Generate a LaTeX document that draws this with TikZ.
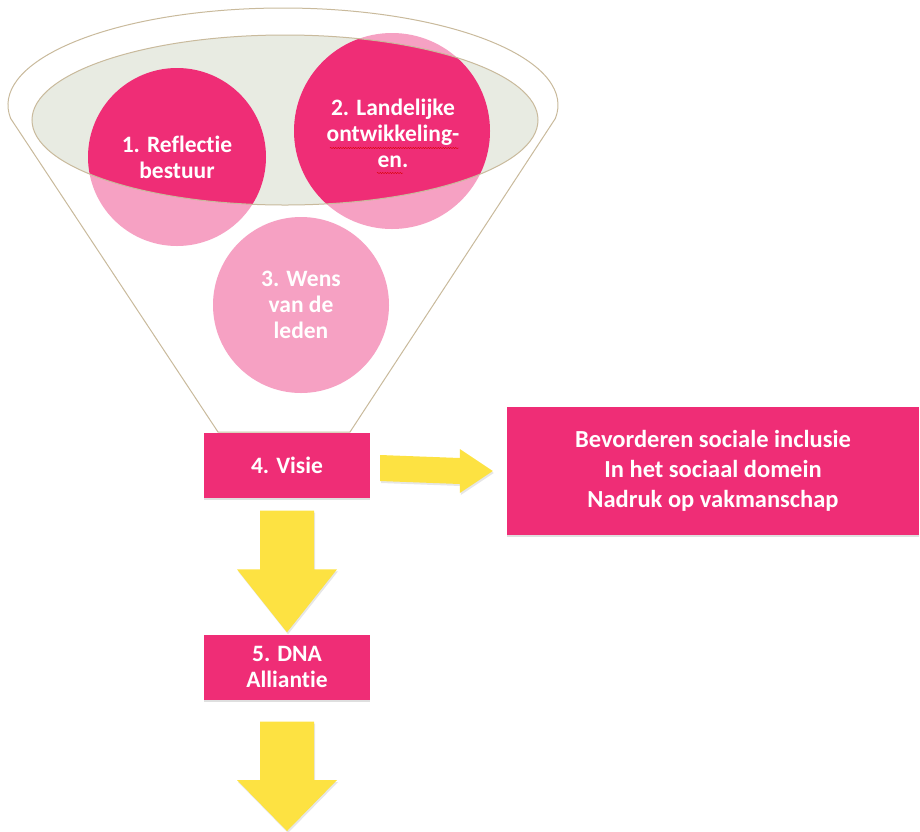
\documentclass[tikz,border=0pt]{standalone}
\usepackage{fontspec}
\setmainfont{Carlito}[Ligatures=NoCommon]
\usetikzlibrary{calc,shadows,decorations.pathmorphing}

\definecolor{rose}{HTML}{EF2D76}
\definecolor{lightrose}{HTML}{F6A1C3}
\definecolor{rimfill}{HTML}{E8EBE2}
\definecolor{rimline}{HTML}{C9BA9C}
\definecolor{arrowfill}{HTML}{FDE242}

\tikzset{
  label/.style={text=white, font=\bfseries\fontsize{23.5}{26}\selectfont, align=center},
  box/.style={label, fill=rose, inner sep=0pt,
    drop shadow={shadow xshift=0pt, shadow yshift=-2pt, opacity=0.25}},
  bigarrow/.style={fill=arrowfill,
    drop shadow={shadow xshift=1pt, shadow yshift=-2pt, opacity=0.2}},
  squiggle/.style={red!85!black, line width=0.45pt, decorate,
    decoration={snake, amplitude=0.6pt, segment length=2.5pt}}
}

\begin{document}
\begin{tikzpicture}[x=1pt,y=-1pt]
    \useasboundingbox (0,0) rectangle (920,831);
    \coordinate (rim) at (283,105);
    \coordinate (mouth) at (285,120);
    % funnel outline
    \draw[rimline, line width=1pt, fill=white] (rim) ++(172:275 and 97) arc[start angle=172, end angle=368, x radius=275, y radius=97]
        -- (350,432) -- (218,432) -- cycle;
    % the three inputs
    \fill[lightrose] (177,157) circle (89);
    \fill[lightrose] (392,131) circle (98);
    \fill[lightrose] (301,305) circle (88);
    \fill[rimfill] (mouth) ellipse (253 and 85);
    \begin{scope}
        \clip (mouth) ellipse (253 and 85);
        \fill[rose] (177,157) circle (89);
        \fill[rose] (392,131) circle (98);
    \end{scope}
    \draw[rimline, line width=1pt] (mouth) ellipse (253 and 85);
    \node[label, circle, minimum size=178] (reflectie) at (177,157) {1. Reflectie\\bestuur};
    \node[label, circle, minimum size=196] (landelijk) at (393,133) {2. Landelijke\\ontwikkeling-\\en.};
    \node[label, circle, minimum size=176] (wens) at (301,305) {3. Wens\\van de\\leden};
    \draw[squiggle] ($(landelijk.center)+(-63,15)$) -- ($(landelijk.center)+(66,15)$);
    \draw[squiggle] ($(landelijk.center)+(-16,40)$) -- ($(landelijk.center)+(10,40)$);
    % boxes
    \node[box, minimum width=166, minimum height=65] (visie) at (287,465) {4. Visie};
    \node[box, minimum width=412, minimum height=128, font=\bfseries\fontsize{24.5}{30}\selectfont] (doel) at (713,471)
        {Bevorderen sociale inclusie\\In het sociaal domein\\Nadruk op vakmanschap};
    \node[box, minimum width=166, minimum height=65] (dna) at (287,667) {5. DNA\\Alliantie};
    \coordinate (out) at (287,831);
    % block arrows
    \coordinate (rtail) at ($(visie.east)+(10,3)$);
    \coordinate (rtip) at ($(doel.west)+(-14,0)$);
    \fill[bigarrow] ($(rtail)+(0,-13)$) -- ($(rtip)+(-33,-13)$) -- ($(rtip)+(-33,-22)$) -- (rtip)
        -- ($(rtip)+(-33,22)$) -- ($(rtip)+(-33,13)$) -- ($(rtail)+(0,13)$) -- cycle;
    \coordinate (dtail) at ($(visie.south)+(0,13)$);
    \coordinate (dtip) at ($(dna.north)+(0,-2)$);
    \fill[bigarrow] ($(dtail)+(-27,0)$) -- ($(dtip)+(-27,-63)$) -- ($(dtip)+(-50,-63)$) -- (dtip)
        -- ($(dtip)+(50,-63)$) -- ($(dtip)+(27,-63)$) -- ($(dtail)+(27,0)$) -- cycle;
    \coordinate (etail) at ($(dna.south)+(0,22)$);
    \fill[bigarrow] ($(etail)+(-27,0)$) -- ($(out)+(-27,-51)$) -- ($(out)+(-50,-51)$) -- (out)
        -- ($(out)+(50,-51)$) -- ($(out)+(27,-51)$) -- ($(etail)+(27,0)$) -- cycle;
\end{tikzpicture}
\end{document}
